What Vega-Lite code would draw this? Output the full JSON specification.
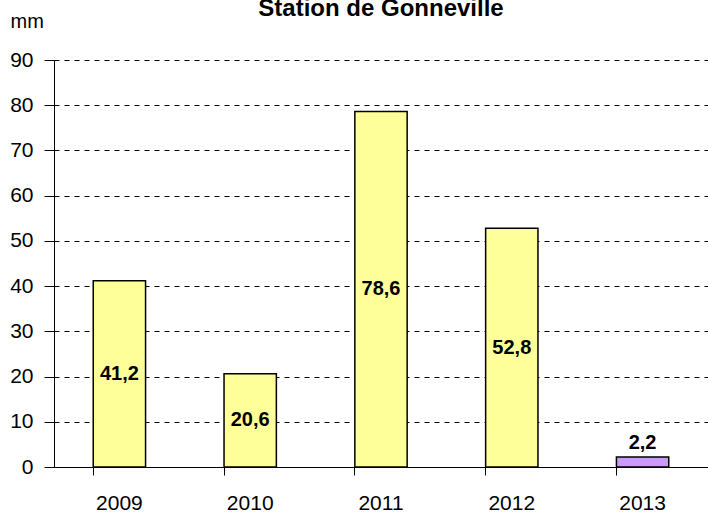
{
  "$schema": "https://vega.github.io/schema/vega-lite/v6.json",
  "autosize": "none",
  "width": 654,
  "height": 407,
  "padding": {"left": 54, "top": 60, "right": 0, "bottom": 49},
  "background": "white",
  "title": {"text": "Station de Gonneville", "font": "Liberation Sans", "fontSize": 24, "fontWeight": "bold", "color": "black", "anchor": "middle", "baseline": "alphabetic", "offset": 0, "dy": 29},
  "data": {"values": [
    {"year": "2009", "value": 41.2, "label": "41,2", "kind": "a"},
    {"year": "2010", "value": 20.6, "label": "20,6", "kind": "a"},
    {"year": "2011", "value": 78.6, "label": "78,6", "kind": "a"},
    {"year": "2012", "value": 52.8, "label": "52,8", "kind": "a"},
    {"year": "2013", "value": 2.2, "label": "2,2", "kind": "b"}
  ]},
  "encoding": {
    "x": {"field": "year", "type": "nominal", "sort": null,
      "scale": {"paddingInner": 0.6, "paddingOuter": 0.3},
      "axis": {"title": null, "labelAngle": 0, "bandPosition": 0, "labelFont": "Liberation Sans", "labelFontSize": 21, "labelColor": "black", "labelPadding": 17, "tickSize": 8, "tickColor": "black", "domainColor": "black", "grid": false}
    }
  },
  "layer": [
    {
      "mark": {"type": "bar", "stroke": "black", "strokeWidth": 1.5},
      "encoding": {
        "y": {"field": "value", "type": "quantitative",
          "scale": {"domain": [0, 90], "nice": false},
          "axis": {"values": [0,10,20,30,40,50,60,70,80,90], "title": "mm", "titleAngle": 0, "titleX": -44, "titleY": -33, "titleAlign": "left", "titleBaseline": "alphabetic", "titleFont": "Liberation Sans", "titleFontSize": 20, "titleFontWeight": "normal", "titleColor": "black",
            "labelFont": "Liberation Sans", "labelFontSize": 21, "labelColor": "black", "labelPadding": 11, "tickSize": 10, "tickColor": "black", "domainColor": "black",
            "grid": true, "gridColor": "black", "gridDash": [5, 5], "gridWidth": 1}
        },
        "color": {"field": "kind", "type": "nominal", "scale": {"domain": ["a", "b"], "range": ["#FFFF99", "#CC99FF"]}, "legend": null}
      }
    },
    {
      "transform": [{"filter": "datum.value >= 5"}, {"calculate": "datum.value / 2", "as": "mid"}],
      "mark": {"type": "text", "font": "Liberation Sans", "fontSize": 20, "fontWeight": "bold", "color": "black", "baseline": "middle"},
      "encoding": {
        "y": {"field": "mid", "type": "quantitative"},
        "text": {"field": "label"}
      }
    },
    {
      "transform": [{"filter": "datum.value < 5"}],
      "mark": {"type": "text", "font": "Liberation Sans", "fontSize": 20, "fontWeight": "bold", "color": "black", "baseline": "alphabetic", "dy": -8},
      "encoding": {
        "y": {"field": "value", "type": "quantitative"},
        "text": {"field": "label"}
      }
    }
  ],
  "config": {"view": {"stroke": null}}
}
